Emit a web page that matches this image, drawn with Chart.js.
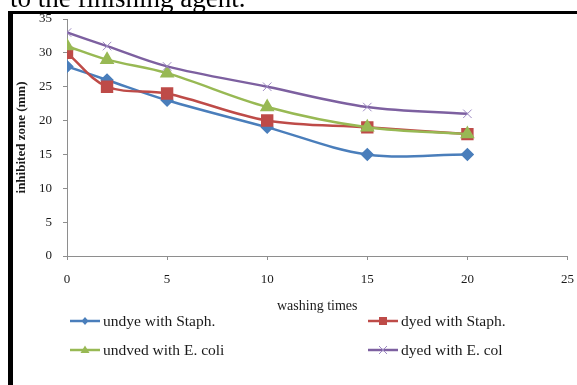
<!DOCTYPE html>
<html>
<head>
<meta charset="utf-8">
<script src="https://cdn.jsdelivr.net/npm/chart.js@4/dist/chart.umd.min.js"></script>
<style>
  html, body { margin: 0; padding: 0; background: #fff; }
  #wrap { position: relative; width: 577px; height: 385px; overflow: hidden; background: #fff; }
  #caption { position: absolute; left: 10px; top: -15px; font: 27px/27px "Liberation Serif", "Times New Roman", serif; color: #000; white-space: nowrap; }
  #topRule { position: absolute; left: 8px; top: 11px; width: 569px; height: 3px; background: #000; }
  #leftRule { position: absolute; left: 8px; top: 11px; width: 5px; height: 374px; background: #000; }
  #chart { position: absolute; left: 0; top: 0; }
</style>
</head>
<body>
<div id="wrap">
  <canvas id="chart" width="577" height="385"></canvas>
  <div id="caption">to the finishing agent.</div>
  <div id="topRule"></div>
  <div id="leftRule"></div>
</div>
<script>
// washing times (x) and inhibited zone values per series
const washingTimes = [0, 2, 5, 10, 15, 20];
const undyeStaph = [28, 26, 23, 19, 15, 15];
const dyedStaph = [30, 25, 24, 20, 19, 18];
const undyedEcoli = [31, 29, 27, 22, 19, 18];
const dyedEcoli = [33, 31, 28, 25, 22, 21];
const seriesLabels = ['undye with Staph.', 'dyed with Staph.', 'undved with E. coli', 'dyed with E. col'];
const xTicks = [0, 5, 10, 15, 20, 25];
const yTicks = [0, 5, 10, 15, 20, 25, 30, 35];

const serif = '"Liberation Serif", "Times New Roman", serif';
const axisGrey = '#8e8e8e';

const toPoints = vals => vals.map((v, i) => ({ x: washingTimes[i], y: v }));

// line + marker legend in two columns, like the Excel one
const legendPlugin = {
  id: 'sideLegend',
  afterDraw(chart) {
    const ctx = chart.ctx;
    const slots = [[70, 321], [368, 321], [70, 350], [368, 350]];
    chart.data.datasets.forEach((ds, i) => {
      const [x, y] = slots[i];
      ctx.save();
      ctx.strokeStyle = ds.borderColor;
      ctx.lineWidth = 2.5;
      ctx.beginPath();
      ctx.moveTo(x, y);
      ctx.lineTo(x + 30, y);
      ctx.stroke();
      const cx = x + 15;
      ctx.fillStyle = ds.pointBackgroundColor;
      ctx.strokeStyle = ds.pointBorderColor;
      ctx.beginPath();
      if (ds.pointStyle === 'rectRot') {
        ctx.moveTo(cx, y - 4); ctx.lineTo(cx + 3.5, y); ctx.lineTo(cx, y + 4); ctx.lineTo(cx - 3.5, y); ctx.closePath(); ctx.fill();
      } else if (ds.pointStyle === 'rect') {
        ctx.rect(cx - 4, y - 4, 8, 8); ctx.fill();
      } else if (ds.pointStyle === 'triangle') {
        ctx.moveTo(cx, y - 4.5); ctx.lineTo(cx + 4.5, y + 3); ctx.lineTo(cx - 4.5, y + 3); ctx.closePath(); ctx.fill();
      } else {
        ctx.lineWidth = 1;
        ctx.moveTo(cx - 4, y - 4); ctx.lineTo(cx + 4, y + 4);
        ctx.moveTo(cx + 4, y - 4); ctx.lineTo(cx - 4, y + 4); ctx.stroke();
      }
      ctx.fillStyle = '#1a1a1a';
      ctx.font = '15.5px ' + serif;
      ctx.textBaseline = 'middle';
      ctx.fillText(ds.label, x + 33, y + 1);
      ctx.restore();
    });
  }
};

const ctx = document.getElementById('chart').getContext('2d');
new Chart(ctx, {
  type: 'line',
  data: {
    datasets: [
      {
        label: seriesLabels[0], data: toPoints(undyeStaph), order: 4,
        borderColor: '#4A7EBB', pointBackgroundColor: '#4A7EBB', pointBorderColor: '#4A7EBB',
        pointStyle: 'rectRot', pointRadius: 5, borderWidth: 2.5
      },
      {
        label: seriesLabels[1], data: toPoints(dyedStaph), order: 3,
        borderColor: '#BE4B48', pointBackgroundColor: '#BE4B48', pointBorderColor: '#BE4B48',
        pointStyle: 'rect', pointRadius: 7, borderWidth: 2.5
      },
      {
        label: seriesLabels[2], data: toPoints(undyedEcoli), order: 2,
        borderColor: '#98B954', pointBackgroundColor: '#98B954', pointBorderColor: '#98B954',
        pointStyle: 'triangle', pointRadius: 6, borderWidth: 2.5
      },
      {
        label: seriesLabels[3], data: toPoints(dyedEcoli), order: 1,
        borderColor: '#7D60A0', pointBackgroundColor: '#9C88C2', pointBorderColor: '#9C88C2',
        pointStyle: 'crossRot', pointRadius: 6, pointBorderWidth: 1, borderWidth: 2.5
      }
    ]
  },
  options: {
    responsive: false,
    animation: false,
    events: [],
    elements: { line: { tension: 0.35, fill: false } },
    layout: { padding: { left: 14, top: 19, right: 9, bottom: 70 } },
    scales: {
      x: {
        type: 'linear', min: 0, max: 25,
        afterBuildTicks: s => { s.ticks = xTicks.map(v => ({ value: v })); },
        afterFit: s => { s.height = 59; s.paddingRight = 0; s.paddingLeft = 0; },
        grid: { drawOnChartArea: false, drawTicks: true, tickLength: 4, color: axisGrey },
        border: { display: true, color: axisGrey, width: 1 },
        ticks: { padding: 12, color: '#1a1a1a', font: { family: serif, size: 13 }, maxRotation: 0 },
        title: { display: true, text: 'washing times', padding: 0, color: '#1a1a1a', font: { family: serif, size: 14 } }
      },
      y: {
        min: 0, max: 35,
        afterBuildTicks: s => { s.ticks = yTicks.map(v => ({ value: v })); },
        afterFit: s => { s.width = 53; },
        grid: { drawOnChartArea: false, drawTicks: true, tickLength: 4, color: axisGrey },
        border: { display: true, color: axisGrey, width: 1 },
        ticks: { padding: 11, color: '#1a1a1a', font: { family: serif, size: 13 } },
        title: { display: true, text: 'inhibited zone (mm)', padding: 0, color: '#1a1a1a', font: { family: serif, size: 13, weight: 'bold' } }
      }
    },
    plugins: { legend: { display: false }, tooltip: { enabled: false } }
  },
  plugins: [legendPlugin]
});
</script>
</body>
</html>
